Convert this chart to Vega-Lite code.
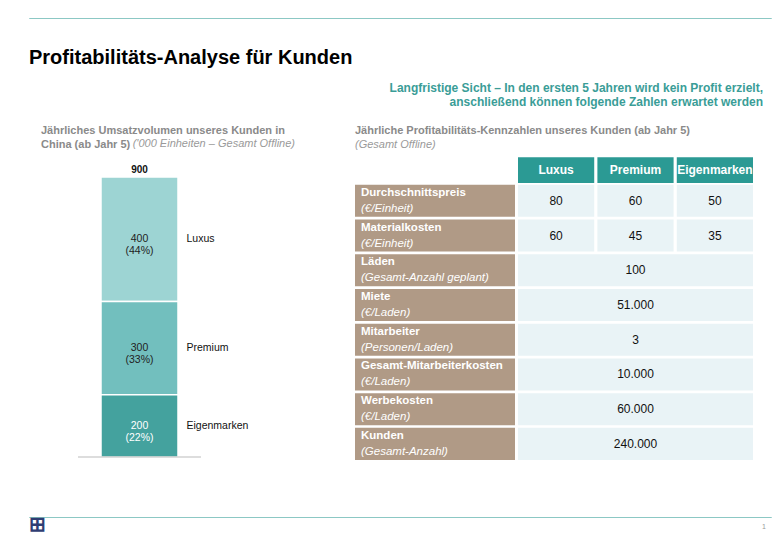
{
  "$schema": "https://vega.github.io/schema/vega-lite/v6.json",
  "background": "white",
  "padding": {"left": 28, "top": 17, "right": 0, "bottom": 0},
  "spacing": 54,
  "config": {
    "view": {"stroke": null},
    "font": "Liberation Sans",
    "title": {"font": "Liberation Sans", "subtitleFont": "Liberation Sans"},
    "text": {"font": "Liberation Sans"}
  },
  "vconcat": [
    {
      "spacing": 13,
      "vconcat": [
        {
          "width": 742,
          "height": 0.01,
          "view": {"stroke": "#8cc8c4", "strokeWidth": 1},
          "title": {"text": "Profitabilitäts-Analyse für Kunden", "orient": "bottom", "anchor": "start", "fontSize": 20, "fontWeight": "bold", "color": "#000000", "offset": 30},
          "data": {"values": []},
          "mark": {"type": "text"},
          "encoding": {}
        },
        {
          "bounds": "flush",
          "spacing": 20,
          "title": {
            "text": ["Langfristige Sicht – In den ersten 5 Jahren wird kein Profit erzielt,", "anschließend können folgende Zahlen erwartet werden"],
            "anchor": "end", "align": "right", "color": "#3a9d97", "fontSize": 12, "fontWeight": "bold", "lineHeight": 14, "offset": 16, "dx": 10
          },
          "hconcat": [
            {
              "width": 306,
              "height": 307,
              "title": {
                "text": ["Jährliches Umsatzvolumen unseres Kunden in", "China (ab Jahr 5)"],
                "subtitle": "\u200b\u00a0\u00a0\u00a0\u00a0\u00a0\u00a0\u00a0\u00a0\u00a0\u00a0\u00a0\u00a0\u00a0\u00a0\u00a0\u00a0\u00a0\u00a0\u00a0\u00a0\u00a0\u00a0\u00a0\u00a0\u00a0\u00a0\u00a0\u00a0\u00a0\u00a0('000 Einheiten – Gesamt Offline)",
                "anchor": "start", "dx": 12, "fontSize": 11, "fontWeight": "bold", "color": "#8a8a8a", "lineHeight": 14,
                "subtitleFontSize": 11, "subtitleFontStyle": "italic", "subtitleColor": "#9a9a9a", "subtitlePadding": -12, "offset": 0
              },
              "layer": [
                {
                  "data": {"values": [
                    {"cat": "China", "segment": "Luxus", "value": 400, "label": "400\n(44%)", "order": 3},
                    {"cat": "China", "segment": "Premium", "value": 300, "label": "300\n(33%)", "order": 2},
                    {"cat": "China", "segment": "Eigenmarken", "value": 200, "label": "200\n(22%)", "order": 1}
                  ]},
                  "layer": [
                    {
                      "mark": {"type": "bar", "stroke": "white", "strokeWidth": 1.5},
                      "encoding": {
                        "x": {"field": "cat", "type": "nominal", "axis": null, "scale": {"type": "band", "paddingInner": 0.3275, "paddingOuter": 1, "align": 0.3144}},
                        "y": {"field": "value", "type": "quantitative", "stack": "zero", "axis": null, "scale": {"domain": [0, 986.8], "nice": false}},
                        "order": {"field": "order", "type": "quantitative"},
                        "color": {"field": "segment", "type": "nominal", "legend": null, "scale": {"domain": ["Luxus", "Premium", "Eigenmarken"], "range": ["#9dd4d3", "#72bfbe", "#44a29e"]}}
                      }
                    },
                    {
                      "transform": [
                        {"stack": "value", "groupby": ["cat"], "sort": [{"field": "order", "order": "ascending"}], "as": ["v0", "v1"]},
                        {"fold": ["v0", "v1"], "as": ["edge", "pos"]},
                        {"aggregate": [{"op": "mean", "field": "pos", "as": "mid"}], "groupby": ["cat", "segment", "label"]}
                      ],
                      "encoding": {
                        "x": {"field": "cat", "type": "nominal", "axis": null, "scale": {"type": "band", "paddingInner": 0.3275, "paddingOuter": 1, "align": 0.3144}},
                        "y": {"field": "mid", "type": "quantitative", "axis": null}
                      },
                      "layer": [
                        {
                          "mark": {"type": "text", "lineBreak": "\n", "fontSize": 10.5, "lineHeight": 12, "baseline": "middle"},
                          "encoding": {
                            "text": {"field": "label"},
                            "color": {"condition": {"test": "datum.segment === 'Eigenmarken'", "value": "#ffffff"}, "value": "#222222"}
                          }
                        },
                        {
                          "mark": {"type": "text", "fontSize": 10.5, "align": "left", "dx": 47, "color": "#111111", "baseline": "middle"},
                          "encoding": {"text": {"field": "segment"}}
                        }
                      ]
                    }
                  ]
                },
                {
                  "data": {"values": [{"cat": "China", "total": 900}]},
                  "mark": {"type": "text", "fontSize": 10, "fontWeight": "bold", "baseline": "bottom", "dy": -2, "color": "#111111"},
                  "encoding": {
                    "x": {"field": "cat", "type": "nominal", "axis": null, "scale": {"type": "band", "paddingInner": 0.3275, "paddingOuter": 1, "align": 0.3144}},
                    "y": {"field": "total", "type": "quantitative", "axis": null},
                    "text": {"field": "total", "type": "quantitative"}
                  }
                },
                {
                  "data": {"values": [{"cat": "China", "base": 0}]},
                  "mark": {"type": "tick", "orient": "horizontal", "size": 123, "thickness": 1, "color": "#a0a0a0"},
                  "encoding": {
                    "x": {"field": "cat", "type": "nominal", "axis": null, "scale": {"type": "band", "paddingInner": 0.3275, "paddingOuter": 1, "align": 0.3144}},
                    "y": {"field": "base", "type": "quantitative", "axis": null}
                  }
                }
              ]
            },
            {
              "bounds": "flush",
              "spacing": 3,
              "title": {
                "text": "Jährliche Profitabilitäts-Kennzahlen unseres Kunden (ab Jahr 5)",
                "subtitle": "(Gesamt Offline)",
                "anchor": "start", "fontSize": 11, "fontWeight": "bold", "color": "#8a8a8a",
                "subtitleFontSize": 11, "subtitleFontStyle": "italic", "subtitleColor": "#9a9a9a", "subtitlePadding": 3, "offset": 0
              },
              "hconcat": [
                {
                  "width": 160,
                  "height": 310,
                  "data": {"values": [
                    {"col": "label", "row": "Durchschnittspreis", "unit": "(€/Einheit)"},
                    {"col": "label", "row": "Materialkosten", "unit": "(€/Einheit)"},
                    {"col": "label", "row": "Läden", "unit": "(Gesamt-Anzahl geplant)"},
                    {"col": "label", "row": "Miete", "unit": "(€/Laden)"},
                    {"col": "label", "row": "Mitarbeiter", "unit": "(Personen/Laden)"},
                    {"col": "label", "row": "Gesamt-Mitarbeiterkosten", "unit": "(€/Laden)"},
                    {"col": "label", "row": "Werbekosten", "unit": "(€/Laden)"},
                    {"col": "label", "row": "Kunden", "unit": "(Gesamt-Anzahl)"}
                  ]},
                  "encoding": {
                    "x": {"field": "col", "type": "nominal", "axis": null, "scale": {"paddingInner": 0, "paddingOuter": 0}},
                    "y": {"field": "row", "type": "nominal", "axis": null, "sort": null, "scale": {"domain": ["Header", "Durchschnittspreis", "Materialkosten", "Läden", "Miete", "Mitarbeiter", "Gesamt-Mitarbeiterkosten", "Werbekosten", "Kunden"], "paddingInner": 0.075, "paddingOuter": 0}}
                  },
                  "layer": [
                    {"mark": {"type": "rect", "color": "#b09a86"}},
                    {
                      "mark": {"type": "text", "align": "left", "baseline": "middle", "dx": 6, "dy": -8, "fontSize": 11.5, "fontWeight": "bold", "color": "#ffffff"},
                      "encoding": {"x": {"field": "col", "type": "nominal", "bandPosition": 0}, "text": {"field": "row"}}
                    },
                    {
                      "mark": {"type": "text", "align": "left", "baseline": "middle", "dx": 6, "dy": 8, "fontSize": 11.5, "fontStyle": "italic", "color": "#ffffff"},
                      "encoding": {"x": {"field": "col", "type": "nominal", "bandPosition": 0}, "text": {"field": "unit"}}
                    }
                  ]
                },
                {
                  "width": 235,
                  "height": 310,
                  "encoding": {
                    "y": {"field": "row", "type": "nominal", "axis": null, "sort": null, "scale": {"domain": ["Header", "Durchschnittspreis", "Materialkosten", "Läden", "Miete", "Mitarbeiter", "Gesamt-Mitarbeiterkosten", "Werbekosten", "Kunden"], "paddingInner": 0.075, "paddingOuter": 0}}
                  },
                  "layer": [
                    {
                      "data": {"values": [
                        {"row": "Header", "col": "Luxus"},
                        {"row": "Header", "col": "Premium"},
                        {"row": "Header", "col": "Eigenmarken"}
                      ]},
                      "encoding": {
                        "x": {"field": "col", "type": "nominal", "axis": null, "sort": null, "scale": {"domain": ["Luxus", "Premium", "Eigenmarken"], "paddingInner": 0.04, "paddingOuter": 0}}
                      },
                      "layer": [
                        {"mark": {"type": "rect", "color": "#2b9a94", "height": {"band": 0.8}, "yOffset": 4}},
                        {"mark": {"type": "text", "fontSize": 12, "fontWeight": "bold", "color": "#ffffff", "baseline": "middle", "dy": 4}, "encoding": {"text": {"field": "col"}}}
                      ]
                    },
                    {
                      "data": {"values": [
                        {"row": "Durchschnittspreis", "col": "Luxus", "value": "80"},
                        {"row": "Durchschnittspreis", "col": "Premium", "value": "60"},
                        {"row": "Durchschnittspreis", "col": "Eigenmarken", "value": "50"},
                        {"row": "Materialkosten", "col": "Luxus", "value": "60"},
                        {"row": "Materialkosten", "col": "Premium", "value": "45"},
                        {"row": "Materialkosten", "col": "Eigenmarken", "value": "35"}
                      ]},
                      "encoding": {
                        "x": {"field": "col", "type": "nominal", "axis": null, "sort": null}
                      },
                      "layer": [
                        {"mark": {"type": "rect", "color": "#e9f3f6"}},
                        {"mark": {"type": "text", "fontSize": 12, "color": "#111111", "baseline": "middle"}, "encoding": {"text": {"field": "value"}}}
                      ]
                    },
                    {
                      "data": {"values": [
                        {"row": "Läden", "value": "100"},
                        {"row": "Miete", "value": "51.000"},
                        {"row": "Mitarbeiter", "value": "3"},
                        {"row": "Gesamt-Mitarbeiterkosten", "value": "10.000"},
                        {"row": "Werbekosten", "value": "60.000"},
                        {"row": "Kunden", "value": "240.000"}
                      ]},
                      "layer": [
                        {"mark": {"type": "rect", "color": "#e9f3f6"}},
                        {"mark": {"type": "text", "fontSize": 12, "color": "#111111", "baseline": "middle"}, "encoding": {"text": {"field": "value"}}}
                      ]
                    }
                  ]
                }
              ]
            }
          ]
        }
      ]
    },
    {
      "width": 742,
      "height": 0.01,
      "view": {"stroke": "#8cc8c4", "strokeWidth": 1},
      "title": {"text": "⊞", "orient": "bottom", "anchor": "start", "frame": "group", "fontSize": 20, "color": "#2f3d73", "offset": -15},
      "data": {"values": [{"page": "1"}]},
      "mark": {"type": "text", "align": "right", "baseline": "top", "dy": 6, "dx": -5, "fontSize": 7, "color": "#9a9a9a"},
      "encoding": {"text": {"field": "page"}, "x": {"value": "width"}}
    }
  ]
}
